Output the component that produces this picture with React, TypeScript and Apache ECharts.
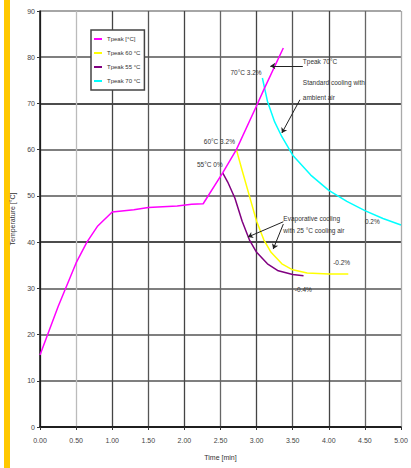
import React, { useEffect, useRef } from "react";
import * as echarts from "echarts";

const xTicks = [0, 0.5, 1, 1.5, 2, 2.5, 3, 3.5, 4, 4.5, 5];
const yTicks = [0, 10, 20, 30, 40, 50, 60, 70, 80, 90];

const seriesNames = ["Tpeak [°C]", "Tpeak 60 °C", "Tpeak 55 °C", "Tpeak 70 °C"];
const seriesColors = ["#FF00FF", "#FFFF00", "#800080", "#00FFFF"];

const peakT = [0, 0.25, 0.5, 0.65, 0.8, 1.0, 1.3, 1.5, 1.9, 2.1, 2.26, 2.53, 2.72, 3.0, 3.1, 3.37];
const peakV = [15.6, 26, 35.5, 40, 43.5, 46.5, 47.0, 47.5, 47.8, 48.2, 48.3, 55, 60, 69.5, 73, 82];

const t60T = [2.72, 2.8, 2.9, 3.0, 3.1, 3.2, 3.35, 3.5, 3.7, 4.0, 4.27];
const t60V = [60, 55.5, 50, 44.5, 40.5, 37.8, 35.3, 34, 33.3, 33.1, 33.1];

const t55T = [2.53, 2.6, 2.7, 2.8, 2.9, 3.0, 3.15, 3.3, 3.5, 3.65];
const t55V = [55, 53, 49.5, 44.5, 40.5, 37.8, 35.3, 33.8, 33, 32.7];

const t70T = [3.08, 3.15, 3.25, 3.35, 3.5, 3.75, 4.0, 4.25, 4.5, 4.75, 5.0];
const t70V = [75.5, 70.5, 66, 62.8, 58.8, 54.5, 51.2, 48.8, 46.8, 45.1, 43.7];

const noteTexts = [
  "70°C 3.2%",
  "Tpeak 70°C",
  "Standard cooling with",
  "ambient air",
  "60°C 3.2%",
  "55°C 0%",
  "Evaporative cooling",
  "with 25 °C cooling air",
  "0.2%",
  "-0.2%",
  "-0.4%",
];
const noteT = [3.07, 3.64, 3.64, 3.64, 2.7, 2.53, 3.37, 3.37, 4.5, 4.06, 3.53];
const noteV = [76.8, 79, 74.5, 71.2, 61.7, 56.7, 45.2, 42.6, 44.4, 35.5, 29.7];
const noteAlign = ["right", "left", "left", "left", "right", "right", "left", "left", "left", "left", "left"];

const arrowFrom = [[3.64, 78.1], [3.6, 70.8], [3.37, 44.4], [3.37, 43.9]];
const arrowTo = [[3.19, 78.1], [3.35, 63.6], [2.88, 41.1], [3.23, 38.5]];

const zip = (a: number[], b: number[]) => a.map((v, i) => [v, b[i]]);

export default function App() {
  const ref = useRef<HTMLDivElement>(null);
  useEffect(() => {
    if (!ref.current) return;
    const chart = echarts.init(ref.current, null, { renderer: "svg" });
    const font = "Liberation Sans";
    const datasets = [zip(peakT, peakV), zip(t60T, t60V), zip(t55T, t55V), zip(t70T, t70V)];
    const hColors = ["#111", "#555", "#555", "#555", "#111", "#555", "#555", "#111", "#555", "#888"];
    const vColors = ["#444", "#bbb", "#444", "#555", "#444", "#666", "#444", "#555", "#444", "#666", "#aaa"];
    chart.setOption({
      animation: false,
      backgroundColor: "#fff",
      textStyle: { fontFamily: font },
      grid: { left: 40, right: 10, top: 11, bottom: 41 },
      legend: {
        orient: "vertical",
        left: 91,
        top: 30,
        icon: "rect",
        itemWidth: 8,
        itemHeight: 2,
        itemGap: 8,
        padding: [6, 4, 6, 3],
        backgroundColor: "#fff",
        borderColor: "#444",
        borderWidth: 1.5,
        textStyle: { fontSize: 6, color: "#333", fontFamily: font },
        data: seriesNames,
      },
      xAxis: {
        type: "value",
        min: 0,
        max: 5,
        interval: 0.5,
        name: "Time [min]",
        nameLocation: "middle",
        nameGap: 27,
        nameTextStyle: { fontSize: 7, color: "#333", fontFamily: font },
        axisLine: { show: true, onZero: false, lineStyle: { color: "#111", width: 1.5 } },
        axisTick: { show: true, length: 3, lineStyle: { color: "#333" } },
        axisLabel: { fontSize: 7, color: "#444", margin: 10, formatter: (v: number) => v.toFixed(2) },
        splitLine: { show: true, lineStyle: { color: vColors, width: 1.3 } },
      },
      yAxis: {
        type: "value",
        min: 0,
        max: 90,
        interval: 10,
        name: "Temperature [°C]",
        nameLocation: "middle",
        nameGap: 16,
        nameTextStyle: { fontSize: 7, color: "#333", fontFamily: font },
        axisLine: { show: true, lineStyle: { color: "#111", width: 1.5 } },
        axisTick: { show: true, length: 3, lineStyle: { color: "#333" } },
        axisLabel: { fontSize: 7, color: "#444", margin: 5 },
        splitLine: { show: true, lineStyle: { color: hColors, width: 1.5 } },
      },
      series: seriesNames.map((name, i) => ({
        name,
        type: "line",
        data: datasets[i],
        showSymbol: false,
        symbol: "none",
        z: i === 0 ? 3 : 2,
        lineStyle: { color: seriesColors[i], width: 1.5 },
        itemStyle: { color: seriesColors[i] },
        markLine:
          i === 0
            ? {
                silent: true,
                symbolSize: 5,
                lineStyle: { color: "#222", width: 1, type: "solid" },
                label: { show: false },
                data: arrowFrom.map((f, k) => [
                  { coord: f, symbol: "none" },
                  { coord: arrowTo[k], symbol: "arrow" },
                ]),
              }
            : undefined,
      })),
    });
    const graphics: any[] = [
      { type: "rect", shape: { x: 4, y: 0, width: 6, height: 468 }, style: { fill: "#FFC800" } },
    ];
    noteTexts.forEach((txt, i) => {
      const p = chart.convertToPixel({ gridIndex: 0 }, [noteT[i], noteV[i]]) as number[];
      graphics.push({
        type: "text",
        x: p[0],
        y: p[1],
        z: 10,
        style: {
          text: txt,
          fill: "#333",
          fontSize: 6.5,
          fontFamily: font,
          align: noteAlign[i],
          verticalAlign: "middle",
        },
      });
    });
    chart.setOption({ graphic: graphics });
    return () => chart.dispose();
  }, []);
  return (
    <div
      ref={ref}
      style={{ position: "fixed", left: 0, top: 0, width: 411, height: 468 }}
    />
  );
}
